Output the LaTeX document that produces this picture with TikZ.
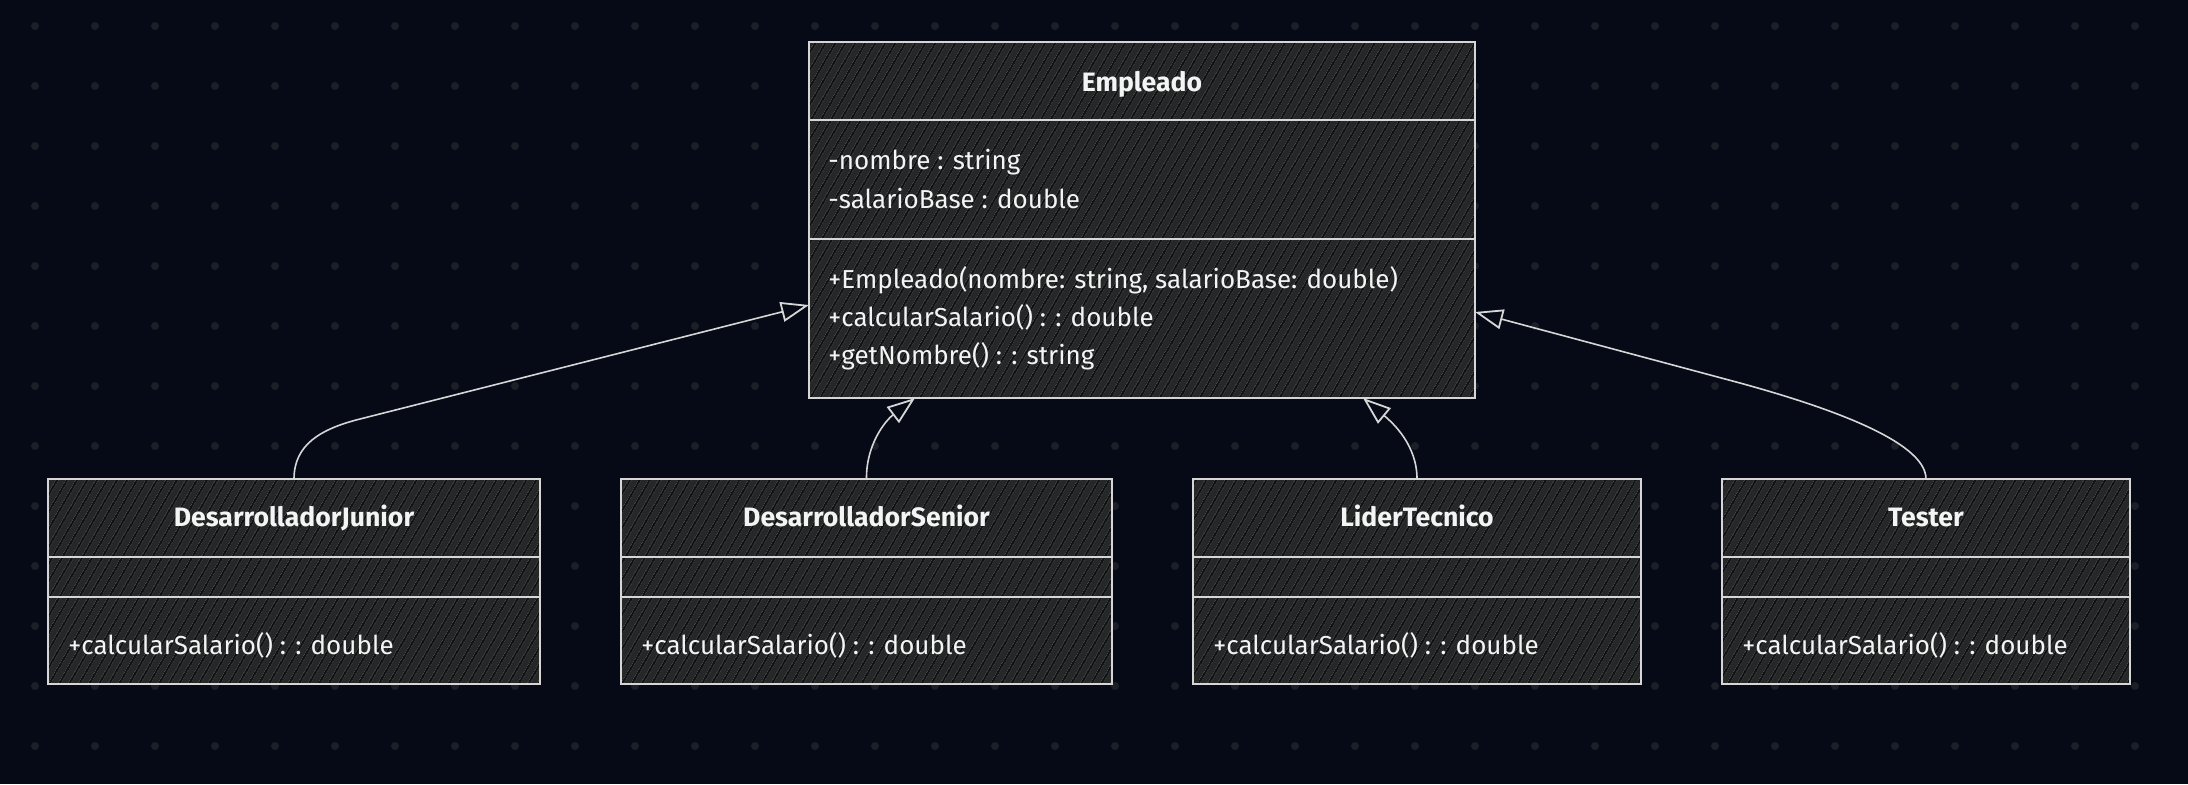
\documentclass[tikz,border=0pt]{standalone}
\usepackage{fontspec}
\setmainfont{Fira Sans}
\usetikzlibrary{arrows.meta,patterns.meta}
\definecolor{bgc}{HTML}{050A16}
\definecolor{dotc}{HTML}{1C1F28}
\definecolor{boxc}{HTML}{262727}
\definecolor{hatch}{HTML}{0C0E13}
\definecolor{linec}{HTML}{D6D6D6}
\definecolor{txtc}{HTML}{F4F4F4}
\tikzset{
  classbox/.style={draw=linec, line width=1.4pt, preaction={fill=boxc},
    pattern={Lines[angle=60,distance=4pt,line width=0.9pt]}, pattern color=hatch,
    anchor=north west, inner sep=0pt, outer sep=0pt},
  divider/.style={draw=linec, line width=1.3pt},
  ctitle/.style={text=txtc, font=\fontsize{13.3}{15}\selectfont\bfseries, anchor=base, inner sep=0pt},
  member/.style={text=txtc, font=\fontsize{13}{15}\selectfont, anchor=base west, inner sep=0pt},
  inherit/.style={draw=linec, line width=0.8pt,
    -{Triangle[length=14pt,width=10pt,fill=bgc,line width=0.9pt]}},
}
\begin{document}
\begin{tikzpicture}[x=0.5pt,y=-0.5pt]
\fill[bgc] (0,0) rectangle (2188,784);
\useasboundingbox (0,0) rectangle (2188,784);
\foreach \i in {0,...,35}{\foreach \j in {0,...,12}{\fill[dotc] (35+60*\i,26+60*\j) circle (4);}}

% Empleado
\node[classbox, minimum width=333pt, minimum height=178pt] (emp) at (809,42) {};
\draw[divider] ([yshift=-39pt]emp.north west) -- ([yshift=-39pt]emp.north east);
\draw[divider] ([yshift=-98.5pt]emp.north west) -- ([yshift=-98.5pt]emp.north east);
\node[ctitle] (empT) at ([yshift=-24.5pt]emp.north) {Empleado};
\node[member] (empA1) at ([xshift=9.5pt,yshift=-63.5pt]emp.north west) {-nombre : string};
\node[member] (empA2) at ([xshift=9.5pt,yshift=-83pt]emp.north west) {-salarioBase : double};
\node[member] (empM1) at ([xshift=9.5pt,yshift=-123pt]emp.north west) {+Empleado(nombre: string, salarioBase: double)};
\node[member] (empM2) at ([xshift=9.5pt,yshift=-142pt]emp.north west) {+calcularSalario() : : double};
\node[member] (empM3) at ([xshift=9.5pt,yshift=-161pt]emp.north west) {+getNombre() : : string};

% subclasses
\foreach \nm/\x/\w/\t in {jr/48/246/DesarrolladorJunior, sr/621/245.5/DesarrolladorSenior, lt/1193/224/LiderTecnico, ts/1722/204/Tester}{
  \node[classbox, minimum width=\w pt, minimum height=102.5pt] (\nm) at (\x,479) {};
  \draw[divider] ([yshift=-39pt]\nm.north west) -- ([yshift=-39pt]\nm.north east);
  \draw[divider] ([yshift=-59pt]\nm.north west) -- ([yshift=-59pt]\nm.north east);
  \node[ctitle] (\nm T) at ([yshift=-23.5pt]\nm.north) {\t};
  \node[member] (\nm M) at ([xshift=10pt,yshift=-87.5pt]\nm.north west) {+calcularSalario() : : double};
}

% connector ends on Empleado
\coordinate (eJ) at ([yshift=-42.5pt]emp.west);
\coordinate (eT) at ([yshift=-46pt]emp.east);
\coordinate (eS) at ([xshift=-113.5pt]emp.south);
\coordinate (eL) at ([xshift=110.5pt]emp.south);

\draw[inherit] (jr.north) .. controls (294,445) and (320,429) .. (360,419) -- (eJ);
\draw[inherit] (sr.north) .. controls (866,445) and (885,421) .. (eS);
\draw[inherit] (lt.north) .. controls (1417,445) and (1393,423) .. (eL);
\draw[inherit] (ts.north) .. controls (1926,440) and (1820,405) .. (1740,383) -- (eT);
\end{tikzpicture}
\end{document}
